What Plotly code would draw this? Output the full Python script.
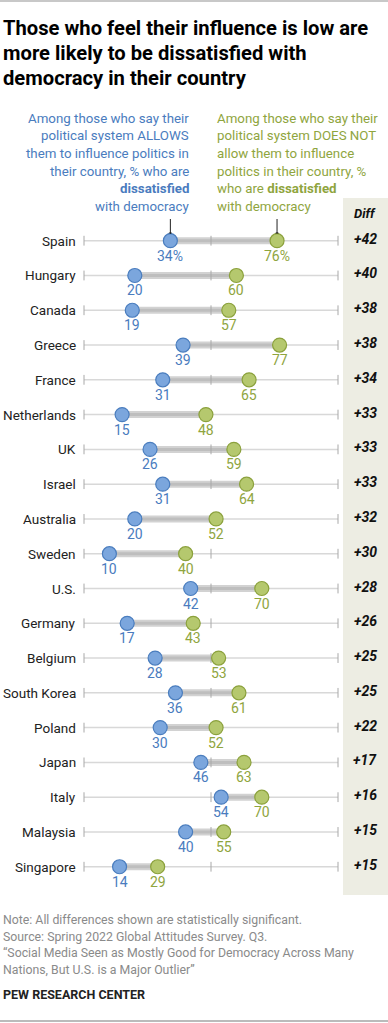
import plotly.graph_objects as go

countries = ["Spain", "Hungary", "Canada", "Greece", "France", "Netherlands", "UK",
             "Israel", "Australia", "Sweden", "U.S.", "Germany", "Belgium",
             "South Korea", "Poland", "Japan", "Italy", "Malaysia", "Singapore"]
allows = [34, 20, 19, 39, 31, 15, 26, 31, 20, 10, 42, 17, 28, 36, 30, 46, 54, 40, 14]
not_allow = [76, 60, 57, 77, 65, 48, 59, 64, 52, 40, 70, 43, 53, 61, 52, 63, 70, 55, 29]
diff_labels = ["+42", "+40", "+38", "+38", "+34", "+33", "+33", "+33", "+32", "+30",
               "+28", "+26", "+25", "+25", "+22", "+17", "+16", "+15", "+15"]
axis_ticks = [0, 50, 100]

W, H = 388, 1023
X0PX, PXPER = 84, 2.54          # pixel of value 0, pixels per unit
ROW0, ROWH = 240.7, 34.78       # pixel y of first row, row spacing

BLUE_FILL, BLUE_LINE, BLUE_TXT = "#7BA6DD", "#4A7DBE", "#4A7CBE"
GREEN_FILL, GREEN_LINE, GREEN_TXT = "#B5C86E", "#8BA13C", "#8FA53E"
FONT = "Roboto, Liberation Sans, Arial, sans-serif"


def py(p):  # pixel y -> paper
    return 1 - p / H


def px(p):
    return p / W


n = len(countries)
rows = list(range(n))

fig = go.Figure()

# thin background line 0-100
tx, ty = [], []
for i in rows:
    tx += [axis_ticks[0], axis_ticks[-1], None]
    ty += [i, i, None]
fig.add_trace(go.Scatter(x=tx, y=ty, mode="lines", line=dict(color="#D8D8D8", width=1.5),
                         hoverinfo="skip", showlegend=False))

# thick connector (two-tone)
bx, by = [], []
for i in rows:
    bx += [allows[i], not_allow[i], None]
    by += [i, i, None]
fig.add_trace(go.Scatter(x=bx, y=by, mode="lines", line=dict(color="#D2D2D2", width=7),
                         hoverinfo="skip", showlegend=False))
fig.add_trace(go.Scatter(x=bx, y=by, mode="lines", line=dict(color="#BEBEBE", width=3),
                         hoverinfo="skip", showlegend=False))

# ticks at 0, 50, 100
kx, ky = [], []
for i in rows:
    for t in axis_ticks:
        kx.append(t)
        ky.append(i)
fig.add_trace(go.Scatter(x=kx, y=ky, mode="markers",
                         marker=dict(symbol="line-ns", size=7, line=dict(color="#A8A8A8", width=1)),
                         hoverinfo="skip", showlegend=False))

# pointer lines for first row
for v in (allows[0], not_allow[0]):
    fig.add_shape(type="line", xref="x", yref="paper", x0=v, x1=v,
                  y0=py(219), y1=py(234), line=dict(color="#222", width=1))
fig.add_trace(go.Scatter(x=[allows[0], not_allow[0]], y=[-6.4 / ROWH] * 2, mode="markers",
                         marker=dict(color="#111", size=4), hoverinfo="skip", showlegend=False))

# dots
fig.add_trace(go.Scatter(x=allows, y=rows, mode="markers",
                         marker=dict(size=14, color=BLUE_FILL, line=dict(color=BLUE_LINE, width=1.2)),
                         showlegend=False))
fig.add_trace(go.Scatter(x=not_allow, y=rows, mode="markers",
                         marker=dict(size=14, color=GREEN_FILL, line=dict(color=GREEN_LINE, width=1.2)),
                         showlegend=False))

ann = []


def A(**kw):
    kw.setdefault("showarrow", False)
    kw.setdefault("yanchor", "middle")
    kw.setdefault("xanchor", "center")
    ann.append(kw)


# value labels
for i in rows:
    a = f"{allows[i]}%" if i == 0 else str(allows[i])
    b = f"{not_allow[i]}%" if i == 0 else str(not_allow[i])
    A(x=allows[i], y=i, xref="x", yref="y", text=a, yshift=-15,
      font=dict(size=14, color=BLUE_TXT, family=FONT))
    A(x=not_allow[i], y=i, xref="x", yref="y", text=b, yshift=-15,
      font=dict(size=14, color=GREEN_TXT, family=FONT))
    A(x=px(78), y=i, xref="paper", yref="y", text=countries[i], xanchor="right",
      font=dict(size=13.5, color="#222", family=FONT))
    A(x=px(365), y=i, xref="paper", yref="y", text=f"<b><i>{diff_labels[i]}</i></b>", yshift=2,
      font=dict(size=14, color="#111", family=FONT))

A(x=px(365), y=py(213), xref="paper", yref="paper", text="<b><i>Diff</i></b>",
  font=dict(size=13, color="#111", family=FONT))

# title
title_lines = ["Those who feel their influence is low are",
               "more likely to be dissatisfied with",
               "democracy in their country"]
for k, t in enumerate(title_lines):
    A(x=px(1), y=py(28 + 25 * k), xref="paper", yref="paper", text=f"<b>{t}</b>", xanchor="left",
      font=dict(size=20.2, color="#000", family=FONT))

# legend texts
blue_lines = ["Among those who say their", "political system ALLOWS",
              "them to influence politics in", "their country, % who are",
              "<b>dissatisfied</b>", "with democracy"]
green_lines = ["Among those who say their", "political system DOES NOT",
               "allow them to influence", "politics in their country, %",
               "who are <b>dissatisfied</b>", "with democracy"]
for k, t in enumerate(blue_lines):
    A(x=px(191), y=py(118 + 17.7 * k), xref="paper", yref="paper", text=t, xanchor="right",
      font=dict(size=13.3, color=BLUE_TXT, family=FONT))
for k, t in enumerate(green_lines):
    A(x=px(215), y=py(118 + 17.7 * k), xref="paper", yref="paper", text=t, xanchor="left",
      font=dict(size=13.3, color=GREEN_TXT, family=FONT))

# notes
notes = ["Note: All differences shown are statistically significant.",
         "Source: Spring 2022 Global Attitudes Survey. Q3.",
         "\u201cSocial Media Seen as Mostly Good for Democracy Across Many",
         "Nations, But U.S. is a Major Outlier\u201d"]
for k, t in enumerate(notes):
    A(x=px(1), y=py(920 + 16.7 * k), xref="paper", yref="paper", text=t, xanchor="left",
      font=dict(size=12.3, color="#8A8A8A", family=FONT))
A(x=px(1), y=py(994), xref="paper", yref="paper", text="<b>PEW RESEARCH CENTER</b>", xanchor="left",
  font=dict(size=12.5, color="#222", family=FONT))

shapes = [
    dict(type="rect", xref="paper", yref="paper", x0=px(343), x1=1, y0=py(895), y1=py(198),
         fillcolor="#EDEDE3", line=dict(width=0), layer="below"),
    dict(type="line", xref="paper", yref="paper", x0=0, x1=1, y0=py(1), y1=py(1),
         line=dict(color="#C8C8C8", width=2)),
    dict(type="line", xref="paper", yref="paper", x0=0, x1=1, y0=py(1021), y1=py(1021),
         line=dict(color="#BBBBBB", width=2)),
]
for s in shapes:
    fig.add_shape(**s)

fig.update_layout(
    width=W, height=H, margin=dict(l=0, r=0, t=0, b=0),
    paper_bgcolor="white", plot_bgcolor="rgba(0,0,0,0)",
    xaxis=dict(range=[-X0PX / PXPER, (W - X0PX) / PXPER], visible=False, fixedrange=True),
    yaxis=dict(range=[(H - ROW0) / ROWH, -ROW0 / ROWH], visible=False, fixedrange=True),
    annotations=ann, showlegend=False,
)
fig.write_html("out.html", config={"displayModeBar": False},
               post_script="document.body.style.margin='0';document.body.style.overflow='hidden';")
